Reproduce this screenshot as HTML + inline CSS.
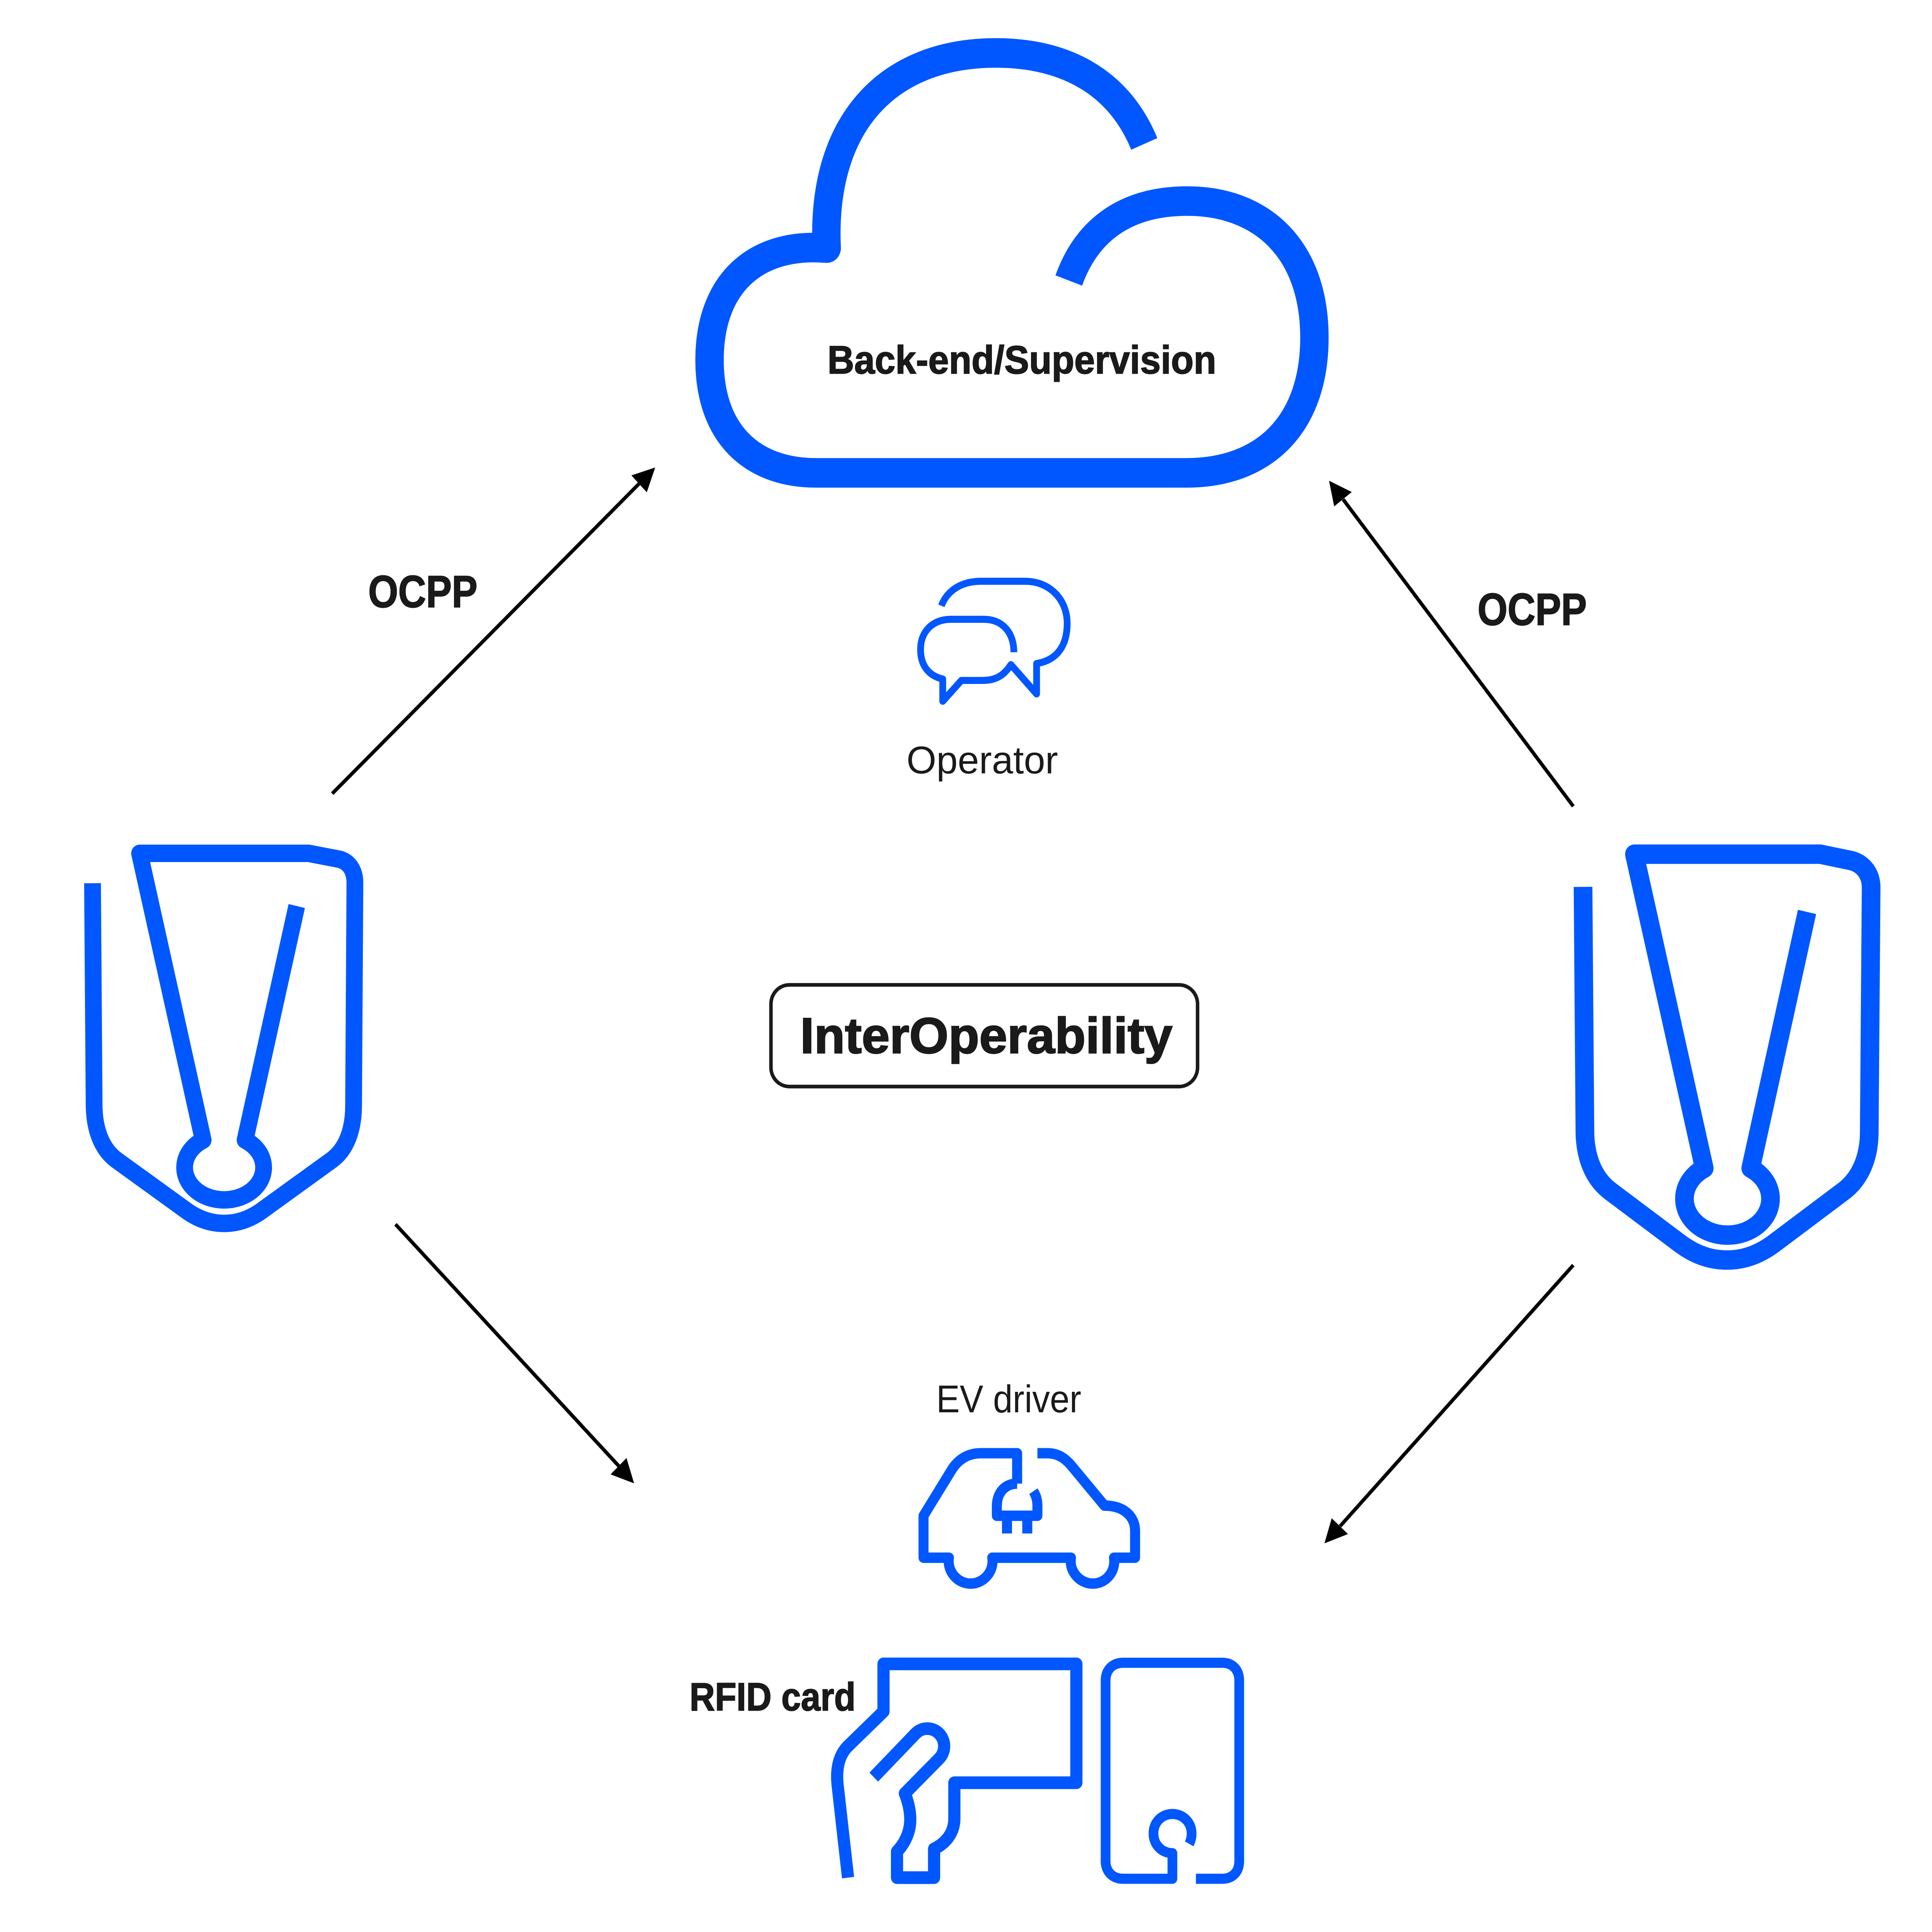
<!DOCTYPE html>
<html>
<head>
<meta charset="utf-8">
<style>
html,body{margin:0;padding:0;background:#fff;width:100%;height:100%;overflow:hidden}
svg{display:block;position:absolute;left:0;top:0;width:100%;height:100%}
text{font-family:"Liberation Sans",sans-serif;fill:#1a1a1a}
.b{font-weight:700;stroke:#1a1a1a;stroke-width:3}
.i{fill:none;stroke:#0057ff;stroke-linejoin:round;stroke-linecap:butt}
.a{stroke:#000;stroke-width:13;fill:none}
</style>
</head>
<body>
<svg viewBox="0 0 7142 6860" preserveAspectRatio="none" xmlns="http://www.w3.org/2000/svg">
<rect width="7142" height="6860" fill="#fff"/>

<!-- Cloud -->
<path class="i" stroke-width="105" d="M4230 511 C4140 300 3950 188 3680 188 C3290 188 3035 430 3056 881 C2790 860 2623 1010 2623 1278 C2623 1540 2780 1679 3017 1679 L4386 1679 C4680 1679 4859 1500 4859 1199 C4859 890 4670 714 4389 714 C4170 714 4020 810 3951 996"/>
<text class="b" x="3059" y="1326" font-size="140" textLength="1437" lengthAdjust="spacingAndGlyphs">Back-end/Supervision</text>

<!-- Operator -->
<path class="i" stroke-width="25" d="M3480 2151 C3500 2100 3550 2064 3626 2064 L3790 2064 C3880 2064 3945 2128 3945 2214 C3945 2295 3905 2345 3832 2356 L3832 2464 L3737 2360 C3710 2400 3680 2416 3632 2416 L3554 2416 L3485 2490 L3485 2411 C3435 2400 3403 2365 3403 2306 C3403 2240 3450 2199 3514 2199 L3637 2199 C3705 2199 3748 2245 3748 2316"/>
<text x="3351" y="2746" font-size="137" textLength="560" lengthAdjust="spacingAndGlyphs">Operator</text>

<!-- InterOperability box -->
<rect x="2850" y="3497" width="1577" height="361" rx="68" ry="68" fill="none" stroke="#1a1a1a" stroke-width="13"/>
<text class="b" style="stroke-width:4" x="2958" y="3739" font-size="179" textLength="1376" lengthAdjust="spacingAndGlyphs">InterOperability</text>

<!-- Left shield -->
<path class="i" stroke-width="62" d="M342 3136 L348 3930 C350 4010 375 4082 435 4122 L697 4304 C745 4335 790 4344 828 4344 C866 4344 912 4335 960 4304 L1222 4122 C1282 4082 1306 4010 1307 3930 L1312 3135 C1312 3090 1290 3060 1255 3051 L1141 3030 L516 3030 L751 4048 A146 115 0 1 0 906 4048 L1097 3217"/>

<!-- Right shield -->
<path class="i" stroke-width="69" d="M5852 3149 L5859 4027 C5862 4110 5890 4185 5955 4231 L6210 4415 C6280 4465 6340 4474 6384 4474 C6428 4474 6488 4465 6558 4415 L6813 4231 C6878 4185 6908 4110 6910 4027 L6917 3151 C6917 3105 6890 3068 6845 3056 L6729 3033 L6042 3033 L6300 4148 A159 129 0 1 0 6472 4148 L6680 3238"/>

<!-- Car -->
<path class="i" stroke-width="37" d="M3760 5268 L3760 5160 L3626 5160 C3580 5160 3545 5180 3520 5216 L3414 5382 L3414 5531 L3508 5531 C3500 5580 3540 5623 3588 5623 C3636 5623 3676 5580 3668 5531 L3959 5531 C3951 5580 3992 5623 4040 5623 C4088 5623 4126 5580 4118 5531 L4196 5531 L4196 5435 C4196 5385 4155 5346 4083 5346 L3956 5199 C3930 5172 3905 5160 3871 5160 L3835 5160"/>
<path class="i" stroke-width="37" d="M3760 5268 C3715 5268 3685 5300 3685 5348 L3685 5382 L3835 5382 L3835 5348 C3835 5325 3830 5310 3820 5295"/>
<path fill="#0057ff" d="M3704 5382 H3741 V5445 H3704 Z M3779 5382 H3816 V5445 H3779 Z"/>
<text x="3461" y="5015" font-size="138" textLength="536" lengthAdjust="spacingAndGlyphs">EV driver</text>

<!-- RFID -->
<path class="i" stroke-width="45" d="M3135 6667 L3096 6335 C3090 6270 3105 6225 3140 6195 L3266 6077 L3266 5908 L3979 5908 L3979 6330 L3528 6330 L3528 6456 C3528 6510 3495 6545 3453 6565 L3453 6667 L3316 6667 L3316 6574 C3345 6545 3365 6505 3365 6460 C3365 6435 3360 6405 3345 6368 L3472 6244 A62 62 0 0 0 3384 6156 L3230 6310"/>
<path class="i" stroke-width="36" d="M4421 6671 L4518 6671 C4558 6671 4581 6645 4581 6608 L4581 5968 C4581 5930 4558 5904 4518 5904 L4152 5904 C4112 5904 4087 5930 4087 5968 L4087 6608 C4087 6645 4112 6671 4152 6671 L4334 6671 L4334 6580 C4295 6580 4264 6550 4264 6510 C4264 6470 4295 6441 4334 6441 C4373 6441 4405 6470 4405 6510 C4405 6525 4402 6536 4396 6547"/>
<text class="b" x="2549" y="6073" font-size="140" textLength="614" lengthAdjust="spacingAndGlyphs">RFID card</text>

<!-- OCPP labels -->
<text class="b" x="1361" y="2156" font-size="161" textLength="404" lengthAdjust="spacingAndGlyphs">OCPP</text>
<text class="b" x="5462" y="2219" font-size="161" textLength="404" lengthAdjust="spacingAndGlyphs">OCPP</text>

<!-- Arrows -->
<line class="a" x1="1228" y1="2818" x2="2362" y2="1718"/>
<polygon points="2422,1660 2334,1688 2391,1748" fill="#000"/>
<line class="a" x1="5816" y1="2863" x2="4965" y2="1773"/>
<polygon points="4913,1707 4997,1747 4932,1798" fill="#000"/>
<line class="a" x1="1462" y1="4347" x2="2288" y2="5206"/>
<polygon points="2344,5267 2316,5177 2257,5235" fill="#000"/>
<line class="a" x1="5816" y1="4492" x2="4954" y2="5419"/>
<polygon points="4896,5480 4923,5391 4983,5447" fill="#000"/>
</svg>
</body>
</html>
